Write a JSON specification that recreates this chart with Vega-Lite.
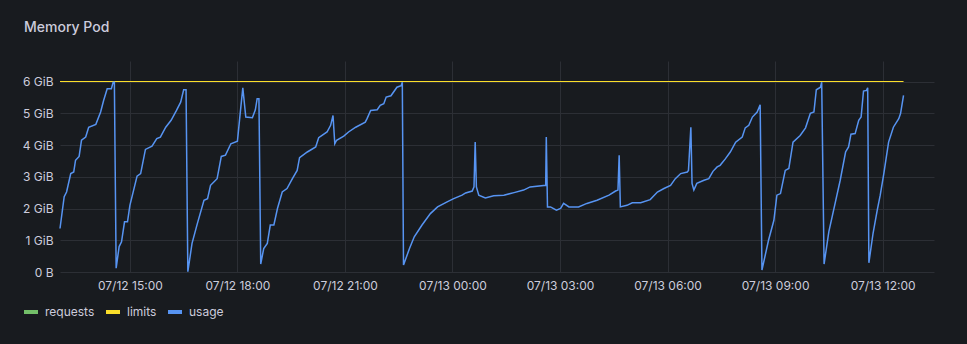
{
  "$schema": "https://vega.github.io/schema/vega-lite/v6.json",
  "width": 874,
  "height": 211,
  "autosize": {"type": "none"},
  "padding": {"left": 60, "top": 61, "right": 33, "bottom": 72},
  "background": "#181b1f",
  "config": {"view": {"stroke": null}, "font": "Inter"},
  "title": {"text": "Memory Pod", "anchor": "start", "frame": "group", "dx": -36, "offset": 15, "baseline": "alphabetic", "font": "Inter", "fontSize": 14, "fontWeight": 500, "color": "#ccccdc"},
  "data": {"values": [
    {"s": "limits", "t": "2023-07-12T13:03", "v": 6},
    {"s": "limits", "t": "2023-07-13T12:35", "v": 6},
    {"s": "usage", "t": "2023-07-12T13:03", "v": 1.37},
    {"s": "usage", "t": "2023-07-12T13:10", "v": 2.37},
    {"s": "usage", "t": "2023-07-12T13:14", "v": 2.52},
    {"s": "usage", "t": "2023-07-12T13:21", "v": 3.10},
    {"s": "usage", "t": "2023-07-12T13:26", "v": 3.15},
    {"s": "usage", "t": "2023-07-12T13:29", "v": 3.52},
    {"s": "usage", "t": "2023-07-12T13:35", "v": 3.64},
    {"s": "usage", "t": "2023-07-12T13:39", "v": 4.15},
    {"s": "usage", "t": "2023-07-12T13:46", "v": 4.25},
    {"s": "usage", "t": "2023-07-12T13:51", "v": 4.56},
    {"s": "usage", "t": "2023-07-12T14:03", "v": 4.65},
    {"s": "usage", "t": "2023-07-12T14:11", "v": 5.04},
    {"s": "usage", "t": "2023-07-12T14:16", "v": 5.40},
    {"s": "usage", "t": "2023-07-12T14:22", "v": 5.77},
    {"s": "usage", "t": "2023-07-12T14:29", "v": 5.77},
    {"s": "usage", "t": "2023-07-12T14:32", "v": 5.98},
    {"s": "usage", "t": "2023-07-12T14:34", "v": 5.98},
    {"s": "usage", "t": "2023-07-12T14:37", "v": 0.12},
    {"s": "usage", "t": "2023-07-12T14:42", "v": 0.80},
    {"s": "usage", "t": "2023-07-12T14:46", "v": 0.95},
    {"s": "usage", "t": "2023-07-12T14:51", "v": 1.58},
    {"s": "usage", "t": "2023-07-12T14:56", "v": 1.58},
    {"s": "usage", "t": "2023-07-12T15:00", "v": 2.10},
    {"s": "usage", "t": "2023-07-12T15:12", "v": 3.02},
    {"s": "usage", "t": "2023-07-12T15:18", "v": 3.10},
    {"s": "usage", "t": "2023-07-12T15:26", "v": 3.86},
    {"s": "usage", "t": "2023-07-12T15:37", "v": 3.96},
    {"s": "usage", "t": "2023-07-12T15:45", "v": 4.20},
    {"s": "usage", "t": "2023-07-12T15:51", "v": 4.25},
    {"s": "usage", "t": "2023-07-12T16:00", "v": 4.56},
    {"s": "usage", "t": "2023-07-12T16:09", "v": 4.78},
    {"s": "usage", "t": "2023-07-12T16:18", "v": 5.09},
    {"s": "usage", "t": "2023-07-12T16:25", "v": 5.35},
    {"s": "usage", "t": "2023-07-12T16:30", "v": 5.74},
    {"s": "usage", "t": "2023-07-12T16:34", "v": 5.74},
    {"s": "usage", "t": "2023-07-12T16:37", "v": 0.01},
    {"s": "usage", "t": "2023-07-12T16:44", "v": 0.90},
    {"s": "usage", "t": "2023-07-12T16:53", "v": 1.53},
    {"s": "usage", "t": "2023-07-12T17:04", "v": 2.26},
    {"s": "usage", "t": "2023-07-12T17:10", "v": 2.31},
    {"s": "usage", "t": "2023-07-12T17:15", "v": 2.73},
    {"s": "usage", "t": "2023-07-12T17:26", "v": 2.94},
    {"s": "usage", "t": "2023-07-12T17:33", "v": 3.64},
    {"s": "usage", "t": "2023-07-12T17:40", "v": 3.68},
    {"s": "usage", "t": "2023-07-12T17:49", "v": 4.04},
    {"s": "usage", "t": "2023-07-12T18:00", "v": 4.12},
    {"s": "usage", "t": "2023-07-12T18:04", "v": 4.88},
    {"s": "usage", "t": "2023-07-12T18:09", "v": 5.80},
    {"s": "usage", "t": "2023-07-12T18:14", "v": 4.88},
    {"s": "usage", "t": "2023-07-12T18:25", "v": 4.86},
    {"s": "usage", "t": "2023-07-12T18:30", "v": 5.11},
    {"s": "usage", "t": "2023-07-12T18:33", "v": 5.46},
    {"s": "usage", "t": "2023-07-12T18:36", "v": 5.46},
    {"s": "usage", "t": "2023-07-12T18:39", "v": 0.25},
    {"s": "usage", "t": "2023-07-12T18:44", "v": 0.74},
    {"s": "usage", "t": "2023-07-12T18:50", "v": 0.90},
    {"s": "usage", "t": "2023-07-12T18:55", "v": 1.48},
    {"s": "usage", "t": "2023-07-12T19:01", "v": 1.48},
    {"s": "usage", "t": "2023-07-12T19:07", "v": 2.00},
    {"s": "usage", "t": "2023-07-12T19:15", "v": 2.52},
    {"s": "usage", "t": "2023-07-12T19:23", "v": 2.63},
    {"s": "usage", "t": "2023-07-12T19:32", "v": 2.94},
    {"s": "usage", "t": "2023-07-12T19:40", "v": 3.20},
    {"s": "usage", "t": "2023-07-12T19:44", "v": 3.60},
    {"s": "usage", "t": "2023-07-12T19:57", "v": 3.78},
    {"s": "usage", "t": "2023-07-12T20:11", "v": 3.94},
    {"s": "usage", "t": "2023-07-12T20:16", "v": 4.23},
    {"s": "usage", "t": "2023-07-12T20:30", "v": 4.41},
    {"s": "usage", "t": "2023-07-12T20:36", "v": 4.62},
    {"s": "usage", "t": "2023-07-12T20:40", "v": 4.93},
    {"s": "usage", "t": "2023-07-12T20:43", "v": 4.04},
    {"s": "usage", "t": "2023-07-12T20:46", "v": 4.15},
    {"s": "usage", "t": "2023-07-12T20:58", "v": 4.28},
    {"s": "usage", "t": "2023-07-12T21:06", "v": 4.41},
    {"s": "usage", "t": "2023-07-12T21:18", "v": 4.56},
    {"s": "usage", "t": "2023-07-12T21:34", "v": 4.72},
    {"s": "usage", "t": "2023-07-12T21:37", "v": 4.83},
    {"s": "usage", "t": "2023-07-12T21:43", "v": 5.09},
    {"s": "usage", "t": "2023-07-12T21:54", "v": 5.11},
    {"s": "usage", "t": "2023-07-12T21:59", "v": 5.25},
    {"s": "usage", "t": "2023-07-12T22:05", "v": 5.30},
    {"s": "usage", "t": "2023-07-12T22:09", "v": 5.51},
    {"s": "usage", "t": "2023-07-12T22:17", "v": 5.55},
    {"s": "usage", "t": "2023-07-12T22:27", "v": 5.82},
    {"s": "usage", "t": "2023-07-12T22:34", "v": 5.87},
    {"s": "usage", "t": "2023-07-12T22:36", "v": 5.98},
    {"s": "usage", "t": "2023-07-12T22:38", "v": 0.22},
    {"s": "usage", "t": "2023-07-12T22:48", "v": 0.74},
    {"s": "usage", "t": "2023-07-12T22:56", "v": 1.11},
    {"s": "usage", "t": "2023-07-12T23:09", "v": 1.48},
    {"s": "usage", "t": "2023-07-12T23:23", "v": 1.84},
    {"s": "usage", "t": "2023-07-12T23:35", "v": 2.05},
    {"s": "usage", "t": "2023-07-12T23:51", "v": 2.21},
    {"s": "usage", "t": "2023-07-13T00:02", "v": 2.31},
    {"s": "usage", "t": "2023-07-13T00:16", "v": 2.42},
    {"s": "usage", "t": "2023-07-13T00:22", "v": 2.49},
    {"s": "usage", "t": "2023-07-13T00:33", "v": 2.55},
    {"s": "usage", "t": "2023-07-13T00:36", "v": 2.68},
    {"s": "usage", "t": "2023-07-13T00:38", "v": 4.09},
    {"s": "usage", "t": "2023-07-13T00:40", "v": 2.68},
    {"s": "usage", "t": "2023-07-13T00:44", "v": 2.42},
    {"s": "usage", "t": "2023-07-13T00:55", "v": 2.33},
    {"s": "usage", "t": "2023-07-13T01:09", "v": 2.40},
    {"s": "usage", "t": "2023-07-13T01:26", "v": 2.42},
    {"s": "usage", "t": "2023-07-13T01:43", "v": 2.50},
    {"s": "usage", "t": "2023-07-13T01:59", "v": 2.58},
    {"s": "usage", "t": "2023-07-13T02:10", "v": 2.68},
    {"s": "usage", "t": "2023-07-13T02:36", "v": 2.73},
    {"s": "usage", "t": "2023-07-13T02:37", "v": 4.25},
    {"s": "usage", "t": "2023-07-13T02:39", "v": 2.05},
    {"s": "usage", "t": "2023-07-13T02:44", "v": 2.05},
    {"s": "usage", "t": "2023-07-13T02:54", "v": 1.95},
    {"s": "usage", "t": "2023-07-13T03:01", "v": 2.00},
    {"s": "usage", "t": "2023-07-13T03:06", "v": 2.16},
    {"s": "usage", "t": "2023-07-13T03:15", "v": 2.05},
    {"s": "usage", "t": "2023-07-13T03:31", "v": 2.05},
    {"s": "usage", "t": "2023-07-13T03:45", "v": 2.16},
    {"s": "usage", "t": "2023-07-13T04:02", "v": 2.26},
    {"s": "usage", "t": "2023-07-13T04:22", "v": 2.42},
    {"s": "usage", "t": "2023-07-13T04:33", "v": 2.55},
    {"s": "usage", "t": "2023-07-13T04:37", "v": 2.58},
    {"s": "usage", "t": "2023-07-13T04:39", "v": 3.68},
    {"s": "usage", "t": "2023-07-13T04:41", "v": 2.05},
    {"s": "usage", "t": "2023-07-13T04:52", "v": 2.10},
    {"s": "usage", "t": "2023-07-13T05:01", "v": 2.18},
    {"s": "usage", "t": "2023-07-13T05:15", "v": 2.18},
    {"s": "usage", "t": "2023-07-13T05:31", "v": 2.28},
    {"s": "usage", "t": "2023-07-13T05:43", "v": 2.52},
    {"s": "usage", "t": "2023-07-13T05:54", "v": 2.63},
    {"s": "usage", "t": "2023-07-13T06:05", "v": 2.73},
    {"s": "usage", "t": "2023-07-13T06:13", "v": 2.94},
    {"s": "usage", "t": "2023-07-13T06:22", "v": 3.10},
    {"s": "usage", "t": "2023-07-13T06:33", "v": 3.15},
    {"s": "usage", "t": "2023-07-13T06:35", "v": 3.20},
    {"s": "usage", "t": "2023-07-13T06:39", "v": 4.56},
    {"s": "usage", "t": "2023-07-13T06:41", "v": 2.79},
    {"s": "usage", "t": "2023-07-13T06:44", "v": 2.58},
    {"s": "usage", "t": "2023-07-13T06:49", "v": 2.79},
    {"s": "usage", "t": "2023-07-13T07:01", "v": 2.89},
    {"s": "usage", "t": "2023-07-13T07:09", "v": 2.94},
    {"s": "usage", "t": "2023-07-13T07:16", "v": 3.17},
    {"s": "usage", "t": "2023-07-13T07:23", "v": 3.31},
    {"s": "usage", "t": "2023-07-13T07:28", "v": 3.36},
    {"s": "usage", "t": "2023-07-13T07:37", "v": 3.57},
    {"s": "usage", "t": "2023-07-13T07:45", "v": 3.78},
    {"s": "usage", "t": "2023-07-13T07:54", "v": 4.09},
    {"s": "usage", "t": "2023-07-13T08:05", "v": 4.25},
    {"s": "usage", "t": "2023-07-13T08:10", "v": 4.54},
    {"s": "usage", "t": "2023-07-13T08:16", "v": 4.62},
    {"s": "usage", "t": "2023-07-13T08:22", "v": 4.88},
    {"s": "usage", "t": "2023-07-13T08:30", "v": 5.04},
    {"s": "usage", "t": "2023-07-13T08:35", "v": 5.27},
    {"s": "usage", "t": "2023-07-13T08:38", "v": 0.06},
    {"s": "usage", "t": "2023-07-13T08:49", "v": 1.00},
    {"s": "usage", "t": "2023-07-13T08:58", "v": 1.63},
    {"s": "usage", "t": "2023-07-13T09:03", "v": 2.42},
    {"s": "usage", "t": "2023-07-13T09:09", "v": 2.47},
    {"s": "usage", "t": "2023-07-13T09:17", "v": 3.20},
    {"s": "usage", "t": "2023-07-13T09:23", "v": 3.26},
    {"s": "usage", "t": "2023-07-13T09:30", "v": 4.09},
    {"s": "usage", "t": "2023-07-13T09:42", "v": 4.30},
    {"s": "usage", "t": "2023-07-13T09:51", "v": 4.54},
    {"s": "usage", "t": "2023-07-13T09:59", "v": 5.00},
    {"s": "usage", "t": "2023-07-13T10:05", "v": 5.04},
    {"s": "usage", "t": "2023-07-13T10:09", "v": 5.74},
    {"s": "usage", "t": "2023-07-13T10:16", "v": 5.82},
    {"s": "usage", "t": "2023-07-13T10:18", "v": 5.98},
    {"s": "usage", "t": "2023-07-13T10:22", "v": 0.25},
    {"s": "usage", "t": "2023-07-13T10:30", "v": 1.27},
    {"s": "usage", "t": "2023-07-13T10:41", "v": 2.21},
    {"s": "usage", "t": "2023-07-13T10:49", "v": 2.89},
    {"s": "usage", "t": "2023-07-13T10:58", "v": 3.78},
    {"s": "usage", "t": "2023-07-13T11:03", "v": 3.94},
    {"s": "usage", "t": "2023-07-13T11:07", "v": 4.34},
    {"s": "usage", "t": "2023-07-13T11:14", "v": 4.36},
    {"s": "usage", "t": "2023-07-13T11:20", "v": 4.78},
    {"s": "usage", "t": "2023-07-13T11:24", "v": 4.88},
    {"s": "usage", "t": "2023-07-13T11:28", "v": 5.70},
    {"s": "usage", "t": "2023-07-13T11:33", "v": 5.72},
    {"s": "usage", "t": "2023-07-13T11:35", "v": 5.80},
    {"s": "usage", "t": "2023-07-13T11:37", "v": 0.29},
    {"s": "usage", "t": "2023-07-13T11:44", "v": 1.22},
    {"s": "usage", "t": "2023-07-13T11:51", "v": 1.95},
    {"s": "usage", "t": "2023-07-13T11:56", "v": 2.42},
    {"s": "usage", "t": "2023-07-13T12:02", "v": 3.10},
    {"s": "usage", "t": "2023-07-13T12:10", "v": 4.09},
    {"s": "usage", "t": "2023-07-13T12:18", "v": 4.56},
    {"s": "usage", "t": "2023-07-13T12:27", "v": 4.83},
    {"s": "usage", "t": "2023-07-13T12:30", "v": 4.99},
    {"s": "usage", "t": "2023-07-13T12:35", "v": 5.56}
  ]},
  "mark": {"type": "line", "interpolate": "linear"},
  "encoding": {
    "x": {
      "field": "t", "type": "temporal", "title": null,
      "scale": {"domain": [
        {"year": 2023, "month": 7, "date": 12, "hours": 13, "minutes": 3},
        {"year": 2023, "month": 7, "date": 13, "hours": 13, "minutes": 26}
      ]},
      "axis": {
        "format": "%m/%d %H:%M",
        "values": [
          {"year": 2023, "month": 7, "date": 12, "hours": 15},
          {"year": 2023, "month": 7, "date": 12, "hours": 18},
          {"year": 2023, "month": 7, "date": 12, "hours": 21},
          {"year": 2023, "month": 7, "date": 13, "hours": 0},
          {"year": 2023, "month": 7, "date": 13, "hours": 3},
          {"year": 2023, "month": 7, "date": 13, "hours": 6},
          {"year": 2023, "month": 7, "date": 13, "hours": 9},
          {"year": 2023, "month": 7, "date": 13, "hours": 12}
        ],
        "labelColor": "#ccccdc", "labelFontSize": 12, "labelFont": "Inter", "ticks": false, "domain": false, "gridColor": "#2c2f35", "labelPadding": 8, "labelFlush": false, "labelOverlap": false}
    },
    "y": {
      "field": "v", "type": "quantitative", "title": null,
      "scale": {"domain": [0, 6.6457], "nice": false, "zero": true},
      "axis": {"values": [0, 1, 2, 3, 4, 5, 6], "labelExpr": "datum.value == 0 ? '0 B' : datum.value + ' GiB'", "labelColor": "#ccccdc", "labelFontSize": 12, "labelFont": "Inter", "ticks": false, "domain": false, "gridColor": "#2c2f35", "labelPadding": 7}
    },
    "color": {
      "field": "s", "type": "nominal",
      "scale": {"domain": ["requests", "limits", "usage"], "range": ["#73BF69", "#FADE2A", "#5794F2"]},
      "legend": {"orient": "none", "legendX": -38, "legendY": 242, "direction": "horizontal", "title": null, "symbolType": "stroke", "symbolSize": 196, "symbolStrokeWidth": 4, "labelColor": "#ccccdc", "labelFontSize": 12, "labelFont": "Inter", "columnPadding": 3, "labelOffset": 5}
    },
    "strokeWidth": {
      "field": "s", "type": "nominal",
      "scale": {"domain": ["limits", "usage"], "range": [1, 1.5]},
      "legend": null
    }
  }
}
